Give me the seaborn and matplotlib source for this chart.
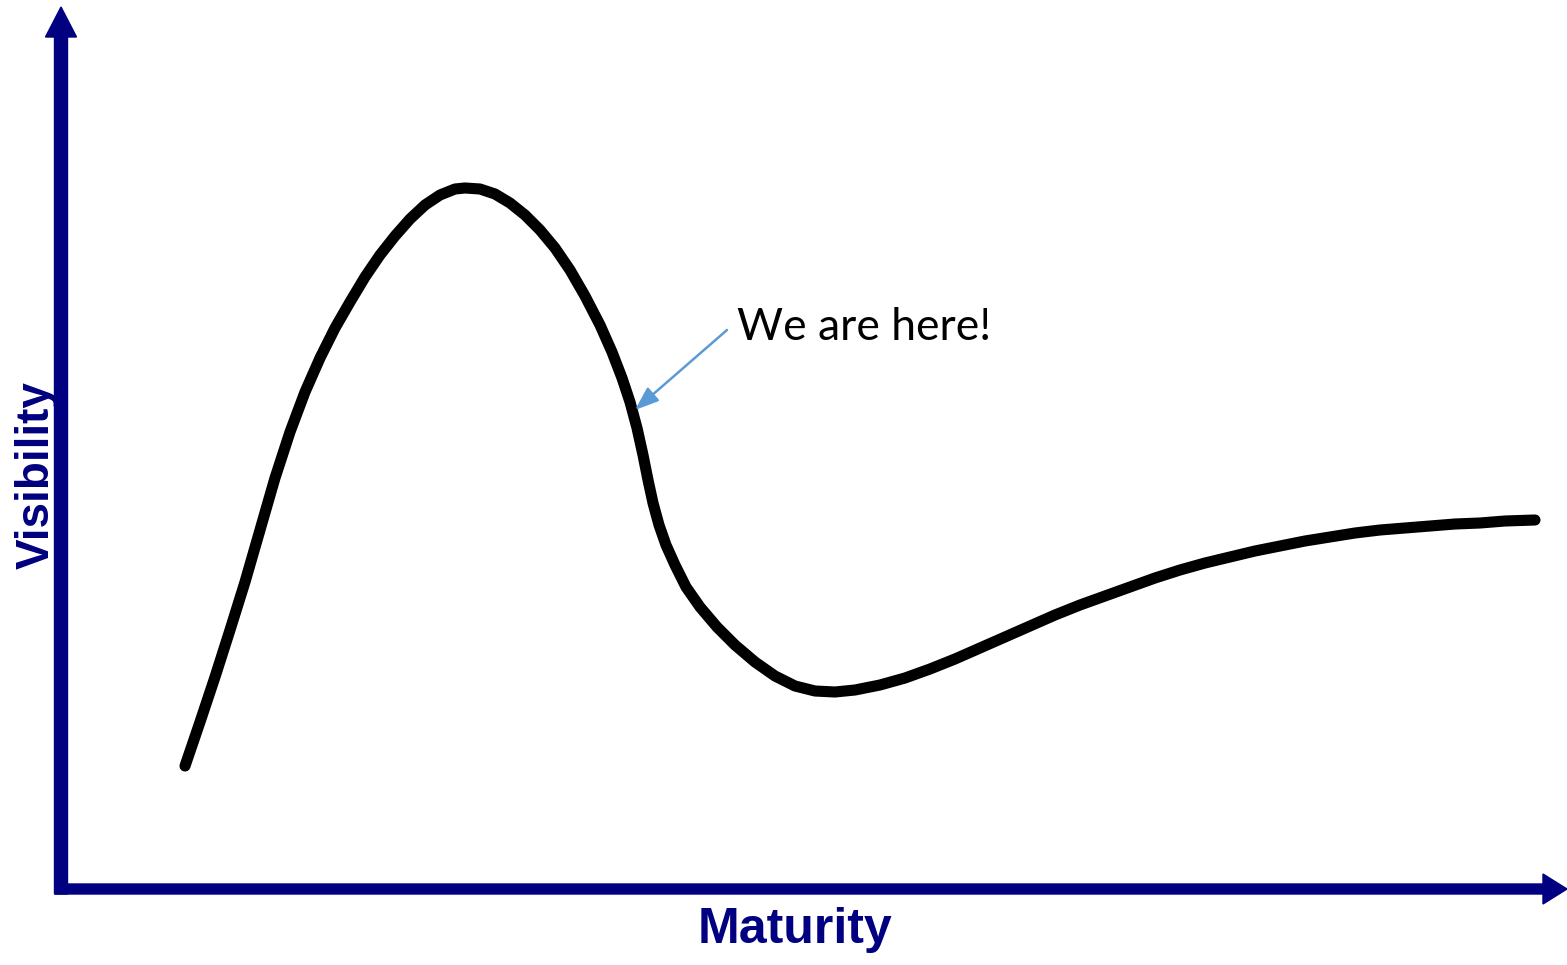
import matplotlib
matplotlib.use("Agg")
import matplotlib.pyplot as plt
import seaborn as sns
import pandas as pd

# Hype-cycle curve (maturity -> visibility, arbitrary units)
maturity = [124, 139, 154, 169, 184, 199, 214, 229, 244, 259,
            274, 289, 304, 319, 334, 349, 364, 379, 394, 404,
            419, 434, 449, 464, 479, 494, 509, 524, 539, 551,
            561, 569, 576, 582, 587, 592, 598, 605, 614, 625,
            639, 656, 674, 694, 714, 734, 754, 774, 794, 819,
            844, 869, 894, 919, 944, 969, 994, 1019, 1044, 1069,
            1094, 1119, 1144, 1169, 1194, 1219, 1244, 1269, 1294, 1319,
            1344, 1369, 1394, 1419, 1444, 1474]
visibility = [123, 167, 212, 259, 307, 359, 411, 457, 497, 531,
              561, 587, 612, 634, 653, 670, 684, 694, 700, 701,
              700, 695, 686, 674, 659, 641, 619, 593, 564, 537,
              511, 487, 461, 434, 409, 386, 364, 344, 324, 302,
              282, 262, 244, 227, 213, 203, 198, 197, 199, 204,
              211, 220, 230, 241, 252, 263, 274, 284, 293, 302,
              311, 319, 326, 332, 338, 343, 348, 352, 356, 359,
              361, 363, 365, 366, 368, 369]

x_label = "Maturity"
y_label = "Visibility"
note_text = "We are here!"
note_point = (574, 479)

NAVY = "#000080"

sns.set_theme(style="white")
fig = plt.figure(figsize=(15.67, 9.65), dpi=100)
ax = fig.add_axes([0, 0, 1, 1])
ax.set_xlim(-61, 1506)
ax.set_ylim(-76, 889)
ax.axis("off")

df = pd.DataFrame({"maturity": maturity, "visibility": visibility})
sns.lineplot(data=df, x="maturity", y="visibility", sort=False, ax=ax,
             color="black", linewidth=8, solid_capstyle="round",
             solid_joinstyle="round")

# axes arrows
ax.arrow(0, -5, 0, 887, width=13, head_width=31, head_length=30,
         length_includes_head=True, color=NAVY, zorder=3)
ax.arrow(-6, 0, 1512, 0, width=10, head_width=30, head_length=24,
         length_includes_head=True, color=NAVY, zorder=3)

ax.text(734, -41, x_label, ha="center", va="center", fontsize=36,
        family="Liberation Sans", weight="bold", color=NAVY)
ax.text(-24, 414, y_label, ha="center", va="center", fontsize=33,
        family="Liberation Sans", weight="bold", color=NAVY, rotation=90)

ax.annotate("", xy=note_point, xytext=(666, 559),
            arrowprops=dict(arrowstyle="-|>,head_length=1.2,head_width=0.45",
                            color="#5B9BD5", lw=1.8, shrinkA=0, shrinkB=0))
ax.text(676, 562, note_text, ha="left", va="center", fontsize=32,
        family="Lato", color="black")

fig.savefig("out.png", dpi=100, facecolor="white")
